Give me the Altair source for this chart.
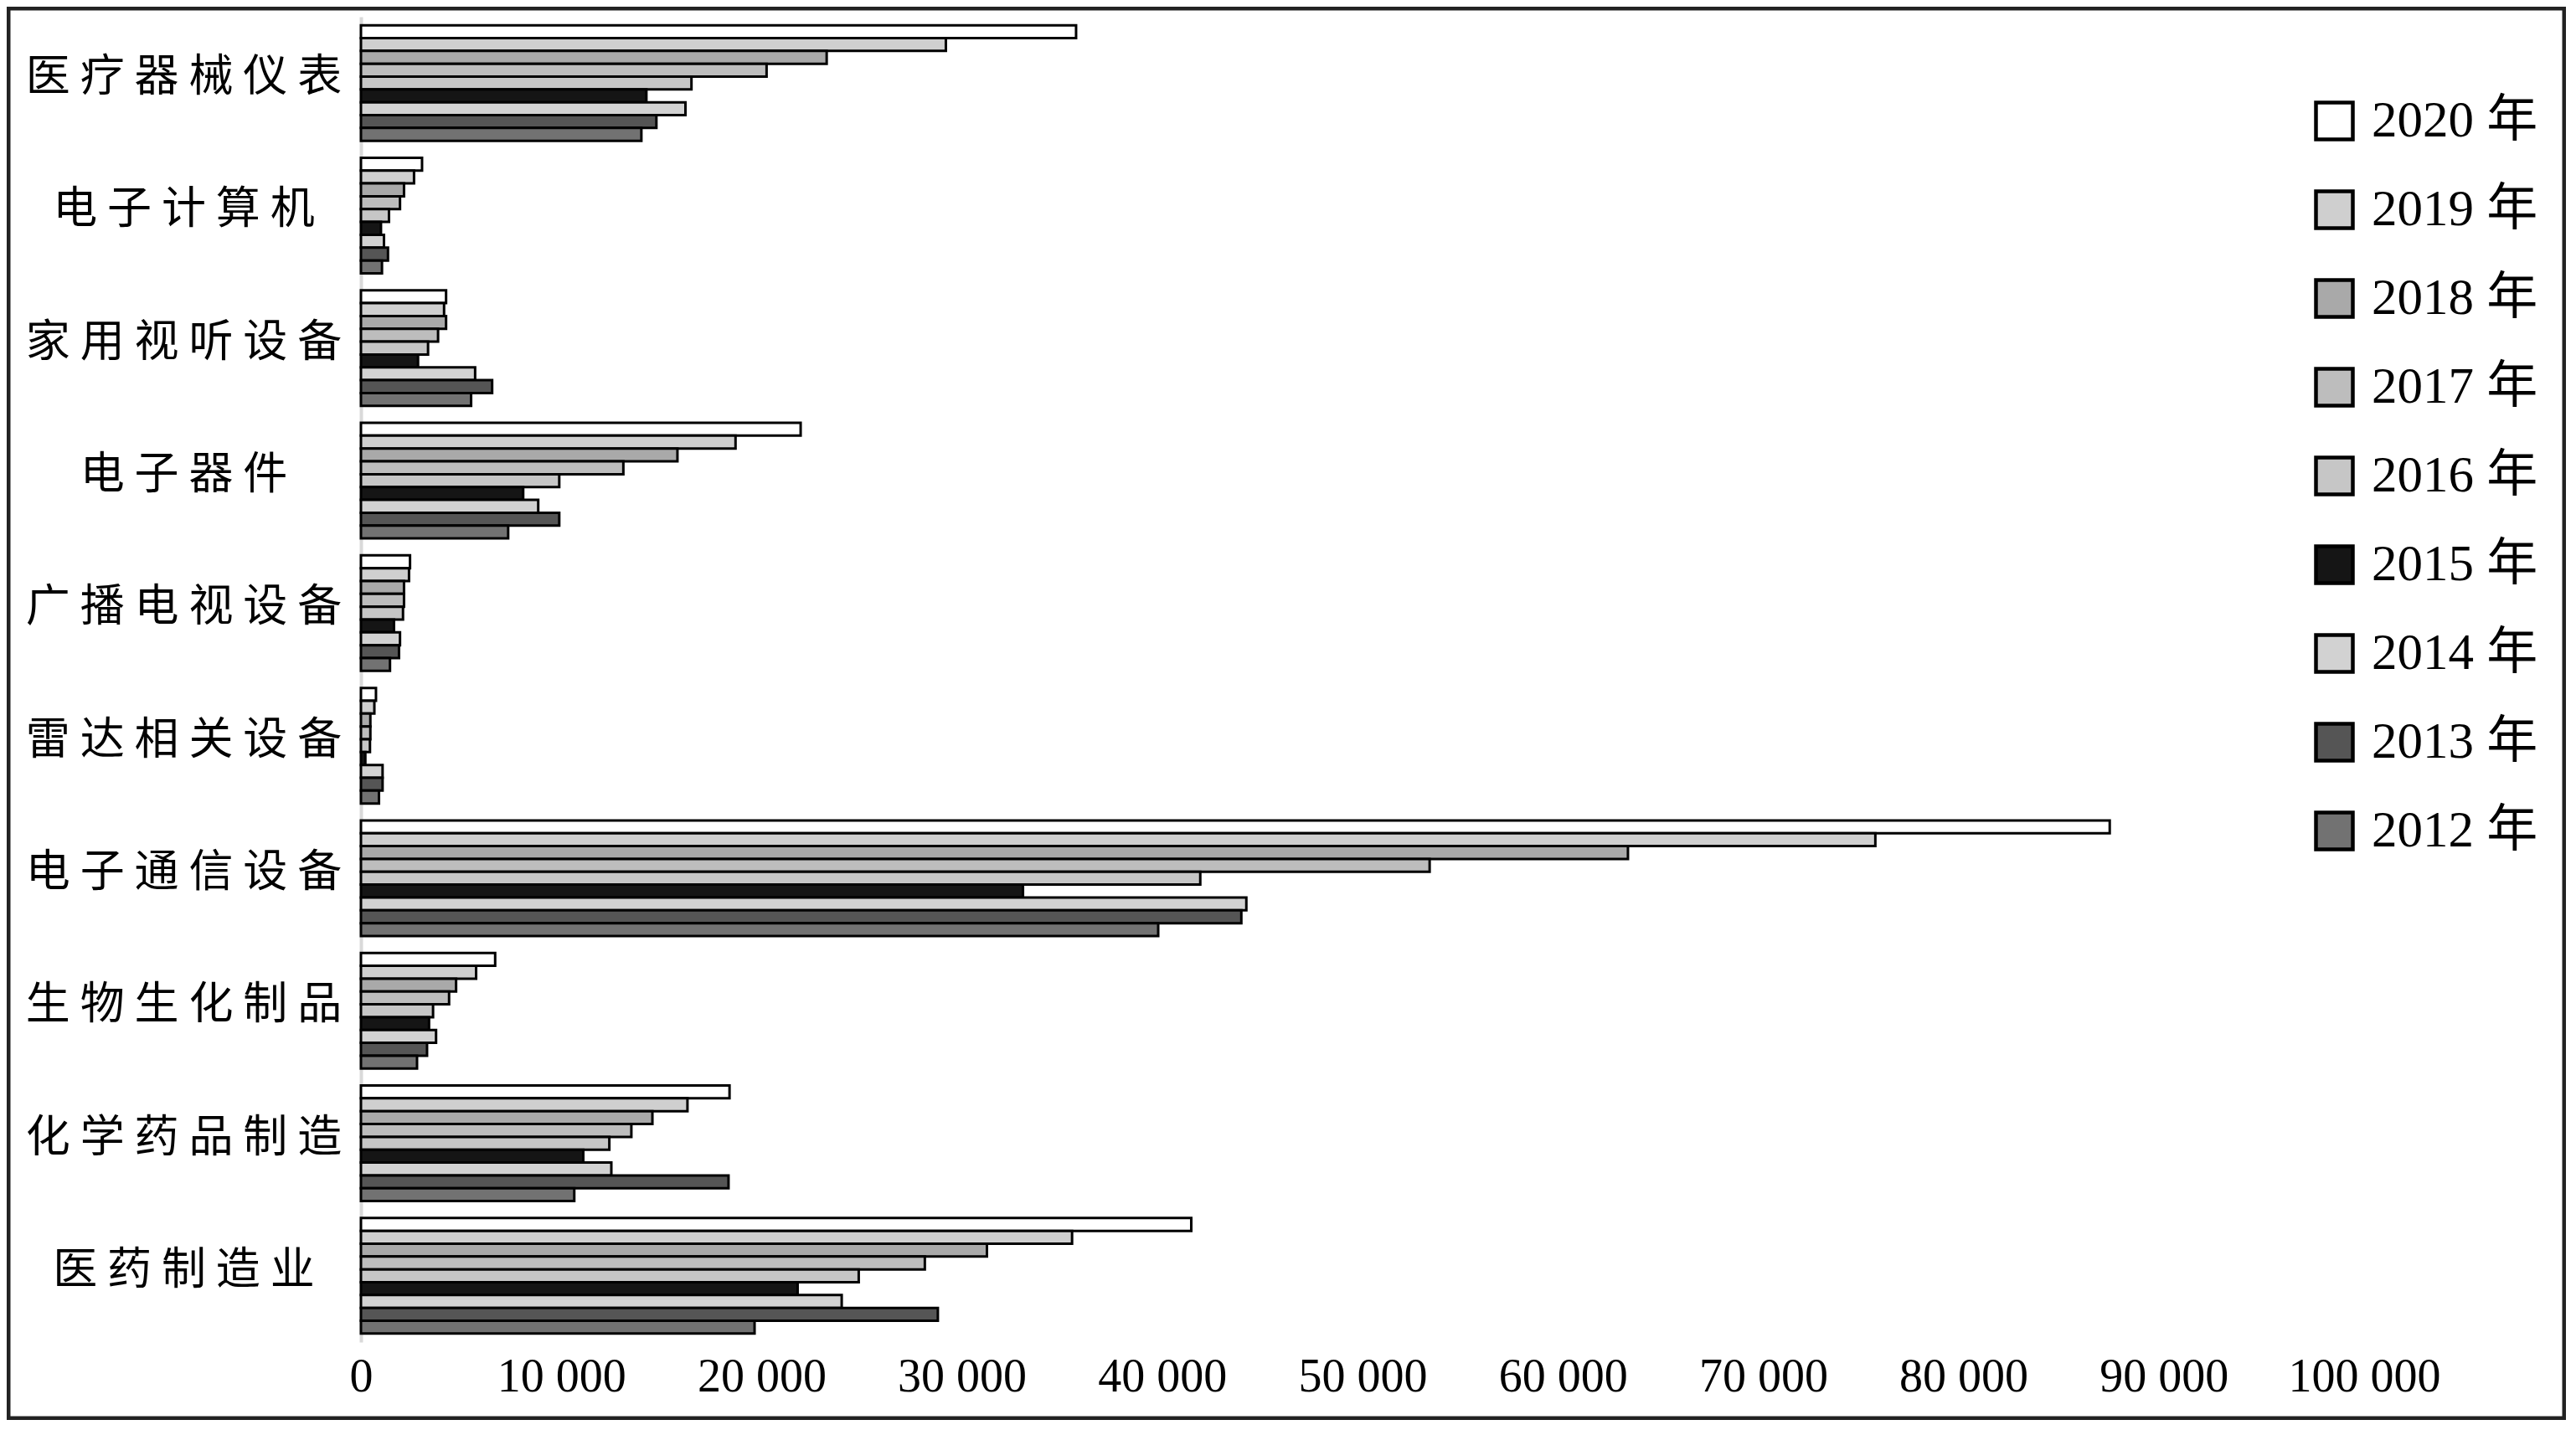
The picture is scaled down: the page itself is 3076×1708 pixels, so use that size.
import altair as alt
import pandas as pd

categories = ["医疗器械仪表", "电子计算机", "家用视听设备", "电子器件", "广播电视设备",
              "雷达相关设备", "电子通信设备", "生物生化制品", "化学药品制造", "医药制造业"]
years = ["2020 年", "2019 年", "2018 年", "2017 年", "2016 年",
         "2015 年", "2014 年", "2013 年", "2012 年"]

v2020 = [35700, 3050, 4250, 21950, 2450, 750, 87300, 6700, 18400, 41450]
v2019 = [29200, 2650, 4150, 18700, 2400, 670, 75600, 5750, 16300, 35500]
v2018 = [23250, 2150, 4250, 15800, 2150, 470, 63250, 4750, 14550, 31250]
v2017 = [20250, 1950, 3850, 13100, 2150, 470, 53350, 4400, 13500, 28150]
v2016 = [16500, 1400, 3350, 9900, 2100, 450, 41900, 3600, 12400, 24850]
v2015 = [14250, 1000, 2850, 8100, 1650, 220, 33050, 3400, 11100, 21800]
v2014 = [16200, 1150, 5700, 8850, 1950, 1080, 44200, 3750, 12500, 24000]
v2013 = [14750, 1350, 6550, 9900, 1900, 1080, 43950, 3300, 18350, 28800]
v2012 = [14000, 1050, 5500, 7350, 1450, 900, 39800, 2800, 10650, 19650]

series = [v2020, v2019, v2018, v2017, v2016, v2015, v2014, v2013, v2012]
fills = ["#ffffff", "#cfcfcf", "#a9a9a9", "#bdbdbd", "#c6c6c6",
         "#151515", "#d2d2d2", "#555555", "#727272"]
x_ticks = [0, 10000, 20000, 30000, 40000, 50000, 60000, 70000, 80000, 90000, 100000]

rows = []
for yr, vals in zip(years, series):
    for c, v in zip(categories, vals):
        rows.append({"行业": c, "年份": yr, "值": v})
df = pd.DataFrame(rows)

W, H = 2392, 1583

bars = alt.Chart(df).mark_bar(stroke="black", strokeWidth=3).encode(
    x=alt.X("值:Q",
            scale=alt.Scale(domain=[0, 100000], nice=False, zero=True),
            axis=alt.Axis(values=x_ticks, title=None, grid=False, ticks=False, domain=False,
                          labelExpr="replace(format(datum.value, ','), ',', ' ')",
                          labelFont="Liberation Serif", labelFontSize=56, labelColor="black",
                          labelPadding=41, labelBaseline="middle", labelFlush=False,
                          labelOverlap=False, labelLimit=0)),
    y=alt.Y("行业:N", sort=categories,
            scale=alt.Scale(paddingInner=0.128, paddingOuter=0.064),
            axis=alt.Axis(title=None, ticks=False, domain=True, domainColor="#d9d9d9",
                          domainWidth=4, labelFont="Noto Sans CJK SC", labelFontSize=53,
                          labelColor="black", labelAlign="center", labelPadding=212,
                          labelBaseline="middle", labelOffset=-6, labelLimit=0,
                          labelExpr="join(split(datum.label, ''), ' ')")),
    yOffset=alt.YOffset("年份:N", sort=years,
                        scale=alt.Scale(paddingInner=0, paddingOuter=0)),
    fill=alt.Fill("年份:N", sort=years,
                  scale=alt.Scale(domain=years, range=fills),
                  legend=alt.Legend(title=None, orient="none", legendX=2326, legendY=94,
                                    symbolType="square", symbolSize=1936,
                                    symbolStrokeColor="black", symbolStrokeWidth=4.5,
                                    symbolOpacity=1, labelLimit=0,
                                    labelFont="Liberation Serif, Noto Sans CJK SC",
                                    labelFontSize=61, labelColor="black",
                                    rowPadding=43, labelOffset=14, padding=0)),
)

frame = alt.Chart(pd.DataFrame({"f": [0]})).mark_rect(
    filled=False, stroke="#222222", strokeWidth=5
).encode(
    x=alt.value(-421), x2=alt.value(2631), y=alt.value(-10), y2=alt.value(1674)
)

chart = alt.layer(bars, frame).properties(
    width=W, height=H,
    autosize=alt.AutoSizeParams(type="none"),
    padding={"left": 423, "top": 12, "right": 241, "bottom": 93},
    background="white",
).configure_view(stroke=None)

chart.save("out.html", embed_options={"renderer": "svg", "actions": False})
